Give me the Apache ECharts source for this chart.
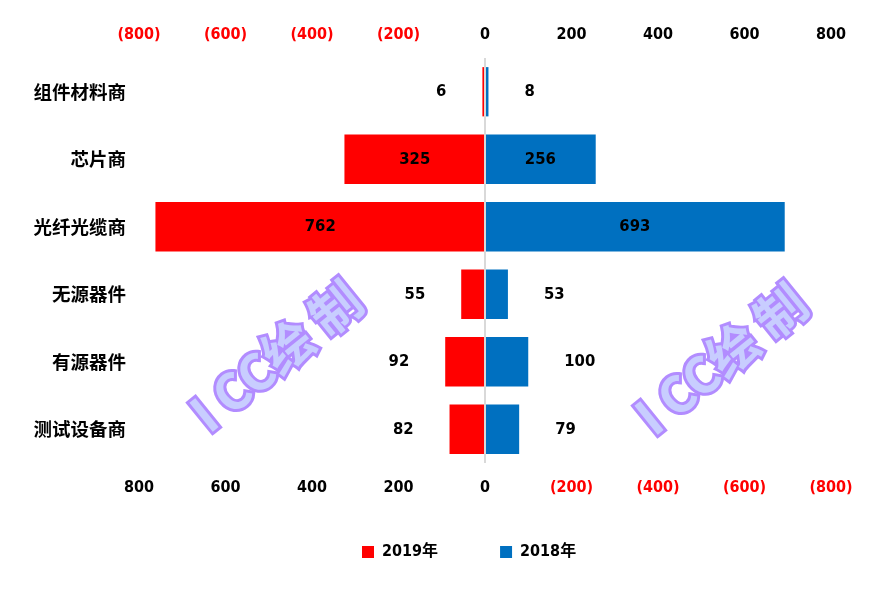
<!DOCTYPE html>
<html>
<head>
<meta charset="utf-8">
<script src="https://cdn.jsdelivr.net/npm/echarts@6/dist/echarts.min.js"></script>
<style>
html,body{margin:0;padding:0;background:#fff;}
#main{width:886px;height:591px;}
</style>
</head>
<body>
<div id="main"></div>
<script>
var categories = ['组件材料商', '芯片商', '光纤光缆商', '无源器件', '有源器件', '测试设备商'];
var values2019 = [6, 325, 762, 55, 92, 82];
var values2018 = [8, 256, 693, 53, 100, 79];
var seriesNames = ['2019年', '2018年'];
var axisMin = -800, axisMax = 800, axisStep = 200;
var watermarkText = 'I CC绘 制';

var numFont = "'Liberation Sans Narrow', 'DejaVu Sans Condensed', 'Noto Sans CJK SC', sans-serif";
var cjkFont = "'Noto Sans CJK SC', sans-serif";

function tickFormatter(v) {
  v = Number(v);
  if (v < 0) return '{r|(' + Math.abs(v) + ')}';
  return '{b|' + v + '}';
}
var tickRich = {
  r: {color: '#FF0000', fontSize: 16, fontWeight: 'bold', fontFamily: numFont},
  b: {color: '#000000', fontSize: 16, fontWeight: 'bold', fontFamily: numFont}
};

function labelFor(v, side) {
  if (v > 150) return {position: 'inside'};
  return {position: side, distance: 36};
}

var data2019 = values2019.map(function (v) {
  return {value: -v, label: labelFor(v, 'left')};
});
var data2018 = values2018.map(function (v) {
  return {value: v, label: labelFor(v, 'right')};
});

var labelStyle = {
  show: true,
  color: '#000',
  fontSize: 16.5,
  fontWeight: 'bold',
  fontFamily: numFont,
  formatter: function (p) { return Math.abs(p.value); }
};

function watermark(x, y) {
  return {
    type: 'text',
    x: x, y: y,
    rotation: 39 * Math.PI / 180,
    z: 100,
    silent: true,
    style: {
      text: watermarkText,
      font: 'bold 50px ' + cjkFont,
      fill: '#c8cdff',
      stroke: '#b28cff',
      lineWidth: 6,
      lineJoin: 'round',
      strokeFirst: true,
      align: 'center',
      verticalAlign: 'middle'
    }
  };
}

var chart = echarts.init(document.getElementById('main'), null, {renderer: 'canvas'});
chart.setOption({
  backgroundColor: '#ffffff',
  animation: false,
  grid: {left: 139, right: 55, top: 58, bottom: 128, containLabel: false},
  legend: {
    data: seriesNames,
    left: 357,
    top: 539,
    icon: 'rect',
    itemWidth: 12,
    itemHeight: 12,
    itemGap: 62,
    textStyle: {color: '#000', fontSize: 16, fontWeight: 'bold', fontFamily: numFont, padding: [0, 0, 0, 3]}
  },
  xAxis: [
    {
      type: 'value', position: 'top',
      min: axisMin, max: axisMax, interval: axisStep,
      axisLine: {show: false}, axisTick: {show: false}, splitLine: {show: false},
      axisLabel: {margin: 15, formatter: tickFormatter, rich: tickRich}
    },
    {
      type: 'value', position: 'bottom', inverse: true,
      min: axisMin, max: axisMax, interval: axisStep,
      axisLine: {show: false}, axisTick: {show: false}, splitLine: {show: false},
      axisLabel: {margin: 17, formatter: tickFormatter, rich: tickRich}
    }
  ],
  yAxis: {
    type: 'category',
    data: categories,
    inverse: true,
    axisLine: {show: false},
    axisTick: {show: false},
    splitLine: {show: false},
    axisLabel: {margin: 13, color: '#000', fontSize: 18.5, fontWeight: 'bold', fontFamily: cjkFont}
  },
  series: [
    {
      name: seriesNames[0],
      type: 'bar',
      xAxisIndex: 0,
      data: data2019,
      barWidth: '73%',
      barGap: '-100%',
      itemStyle: {color: '#FF0000'},
      label: labelStyle
    },
    {
      name: seriesNames[1],
      type: 'bar',
      xAxisIndex: 0,
      data: data2018,
      barWidth: '73%',
      itemStyle: {color: '#0070C0'},
      label: labelStyle,
      markLine: {
        silent: true,
        symbol: 'none',
        label: {show: false},
        lineStyle: {color: '#d9d9d9', width: 2, type: 'solid'},
        data: [{xAxis: 0}]
      }
    }
  ],
  graphic: [watermark(276, 356), watermark(721, 359)]
});
</script>
</body>
</html>
